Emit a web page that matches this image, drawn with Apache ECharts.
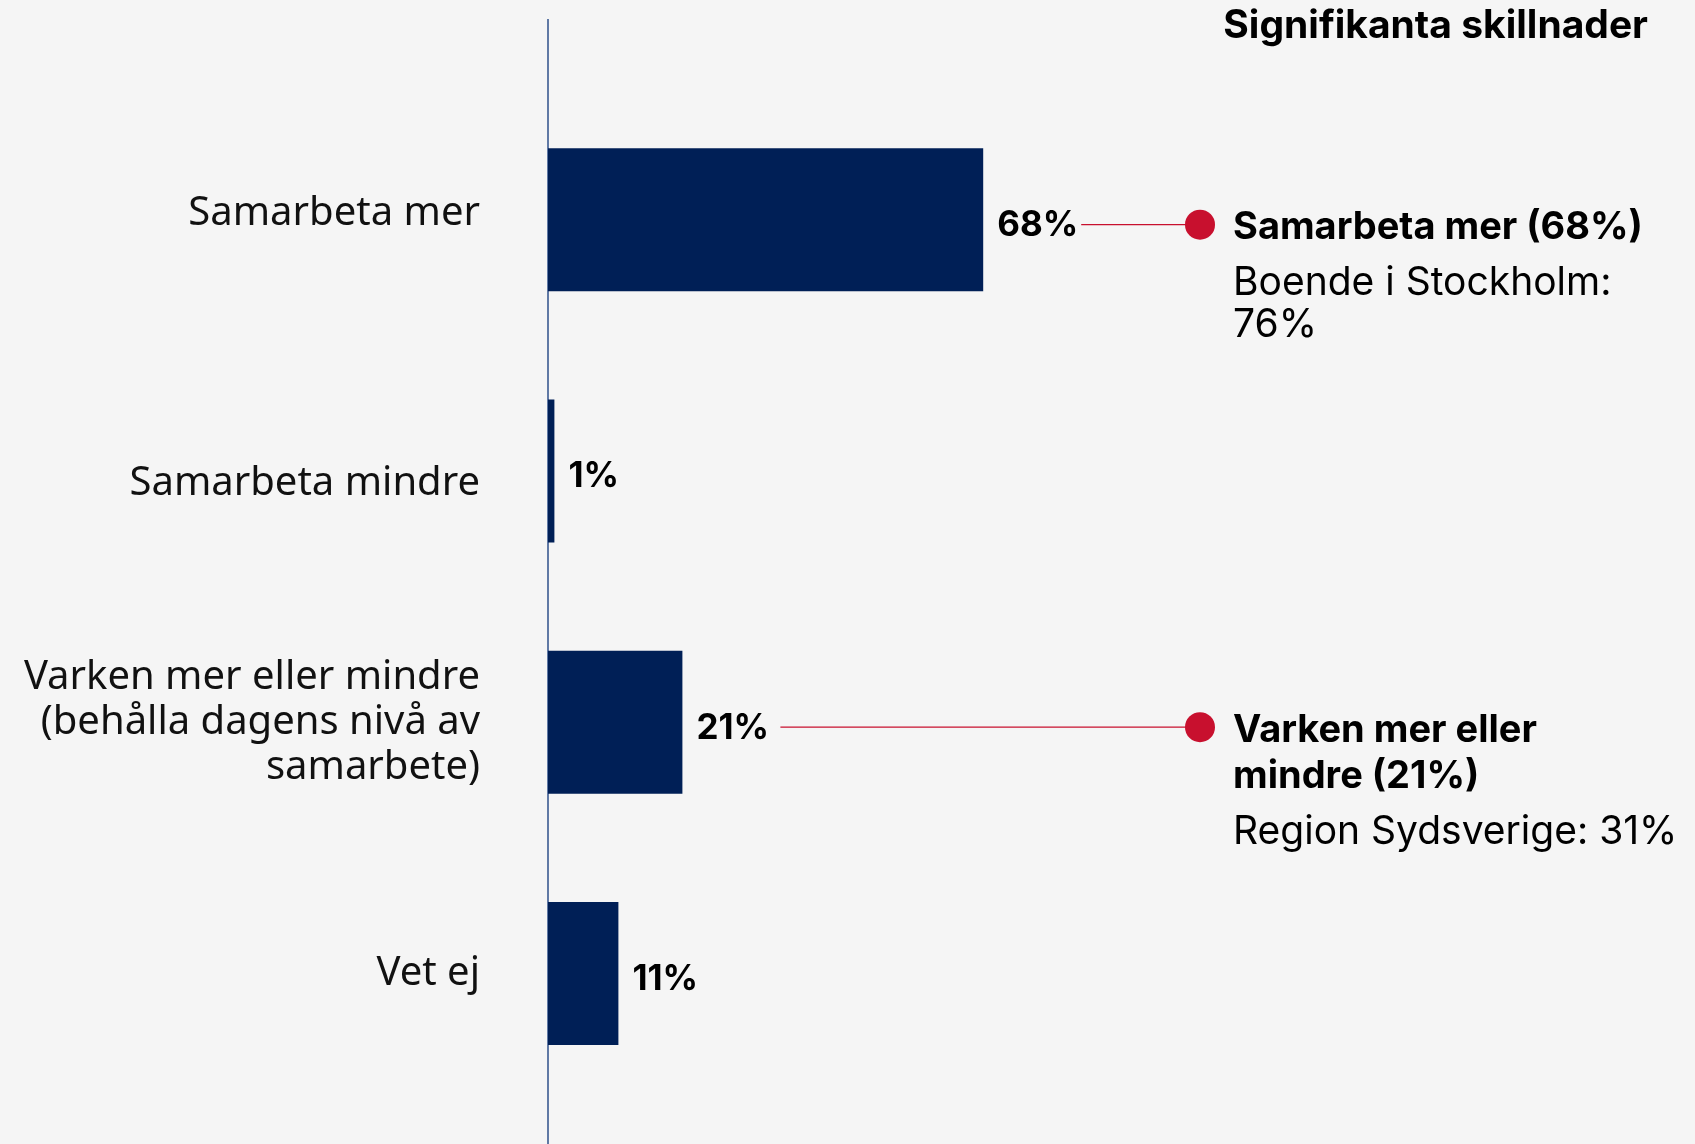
<!DOCTYPE html>
<html>
<head>
<meta charset="utf-8">
<script src="https://cdn.jsdelivr.net/npm/echarts@6/dist/echarts.min.js"></script>
<style>
  html, body { margin: 0; padding: 0; background: #f5f5f5; }
  #main { width: 1695px; height: 1144px; }
</style>
</head>
<body>
<div id="main"></div>
<script>
// kategorier och andelar (%)
const categories = [
  'Samarbeta mer',
  'Samarbeta mindre',
  'Varken mer eller mindre\n(behålla dagens nivå av\nsamarbete)',
  'Vet ej'
];
const values = [68, 1, 21, 11];

// signifikanta skillnader
const noteTitle = 'Signifikanta skillnader';
const noteCats = [categories[0], categories[2]];
const noteHeads = ['Samarbeta mer (68%)', 'Varken mer eller\nmindre (21%)'];
const noteSubs = ['Boende i Stockholm:\n76%', 'Region Sydsverige: 31%'];

const barColor = '#001f56';
const red = '#c8102e';
// små vertikala justeringar av kategoritexterna (px), bara enradiga
const labelShift = [-6, 13, 0, 0];

let labelRich = {};
labelShift.forEach(function (s, i) {
  labelRich['r' + i] = { padding: s >= 0 ? [2 * s, 0, 0, 0] : [0, 0, -2 * s, 0] };
});

let myChart = echarts.init(document.getElementById('main'));

let option = {
  backgroundColor: '#f5f5f5',
  animation: false,
  grid: { left: 548, width: 640, top: 94, height: 1005, containLabel: false },
  xAxis: {
    type: 'value',
    min: 0,
    max: 100,
    show: false
  },
  yAxis: {
    type: 'category',
    inverse: true,
    data: categories,
    axisLine: { show: false },
    axisTick: { show: false },
    axisLabel: {
      margin: 68,
      fontFamily: 'Noto Sans',
      fontSize: 40,
      lineHeight: 45,
      color: '#111',
      align: 'right',
      formatter: function (value, index) {
        if (value.indexOf('\n') >= 0) return value;
        return '{r' + index + '|' + value + '}';
      },
      rich: labelRich
    }
  },
  series: [
    {
      type: 'bar',
      data: values,
      barWidth: 143,
      itemStyle: { color: barColor },
      label: {
        show: true,
        position: 'right',
        distance: 14,
        offset: [0, 6],
        formatter: '{c}%',
        fontFamily: 'Inter',
        fontWeight: 'bold',
        fontSize: 35,
        color: '#000'
      }
    }
  ]
};
myChart.setOption(option);

// axellinje och anteckningar
let graphics = [];
let x0 = myChart.convertToPixel({ xAxisIndex: 0 }, 0);
graphics.push({
  type: 'line',
  shape: { x1: x0, y1: 19, x2: x0, y2: 1144 },
  style: { stroke: '#2e4f8a', lineWidth: 1.5 }
});
graphics.push({
  type: 'text',
  x: 1648, y: 26,
  style: {
    text: noteTitle,
    align: 'right', verticalAlign: 'middle',
    fontFamily: 'Inter', fontWeight: 'bold', fontSize: 39, fill: '#000'
  }
});

const dotX = 1200;
const textX = 1233;
noteCats.forEach(function (cat, i) {
  let idx = categories.indexOf(cat);
  let cy = myChart.convertToPixel({ yAxisIndex: 0 }, idx) + 5;
  let barEnd = myChart.convertToPixel({ xAxisIndex: 0 }, values[idx]);
  graphics.push({
    type: 'line',
    shape: { x1: barEnd + 98, y1: cy, x2: dotX, y2: cy },
    style: { stroke: red, lineWidth: 1.2 }
  });
  graphics.push({
    type: 'circle',
    shape: { cx: dotX, cy: cy, r: 15 },
    style: { fill: red }
  });
  let headLines = noteHeads[i].split('\n').length;
  let top = cy - 20;
  graphics.push({
    type: 'text',
    x: textX, y: top,
    style: {
      text: noteHeads[i],
      fontFamily: 'Inter', fontWeight: 'bold', fontSize: 38,
      lineHeight: 46, fill: '#000', verticalAlign: 'top'
    }
  });
  graphics.push({
    type: 'text',
    x: textX, y: top + headLines * 46 + 12,
    style: {
      text: noteSubs[i],
      fontFamily: 'Inter', fontSize: 39,
      lineHeight: 42, fill: '#000', verticalAlign: 'top'
    }
  });
});
myChart.setOption({ graphic: graphics });
</script>
</body>
</html>
